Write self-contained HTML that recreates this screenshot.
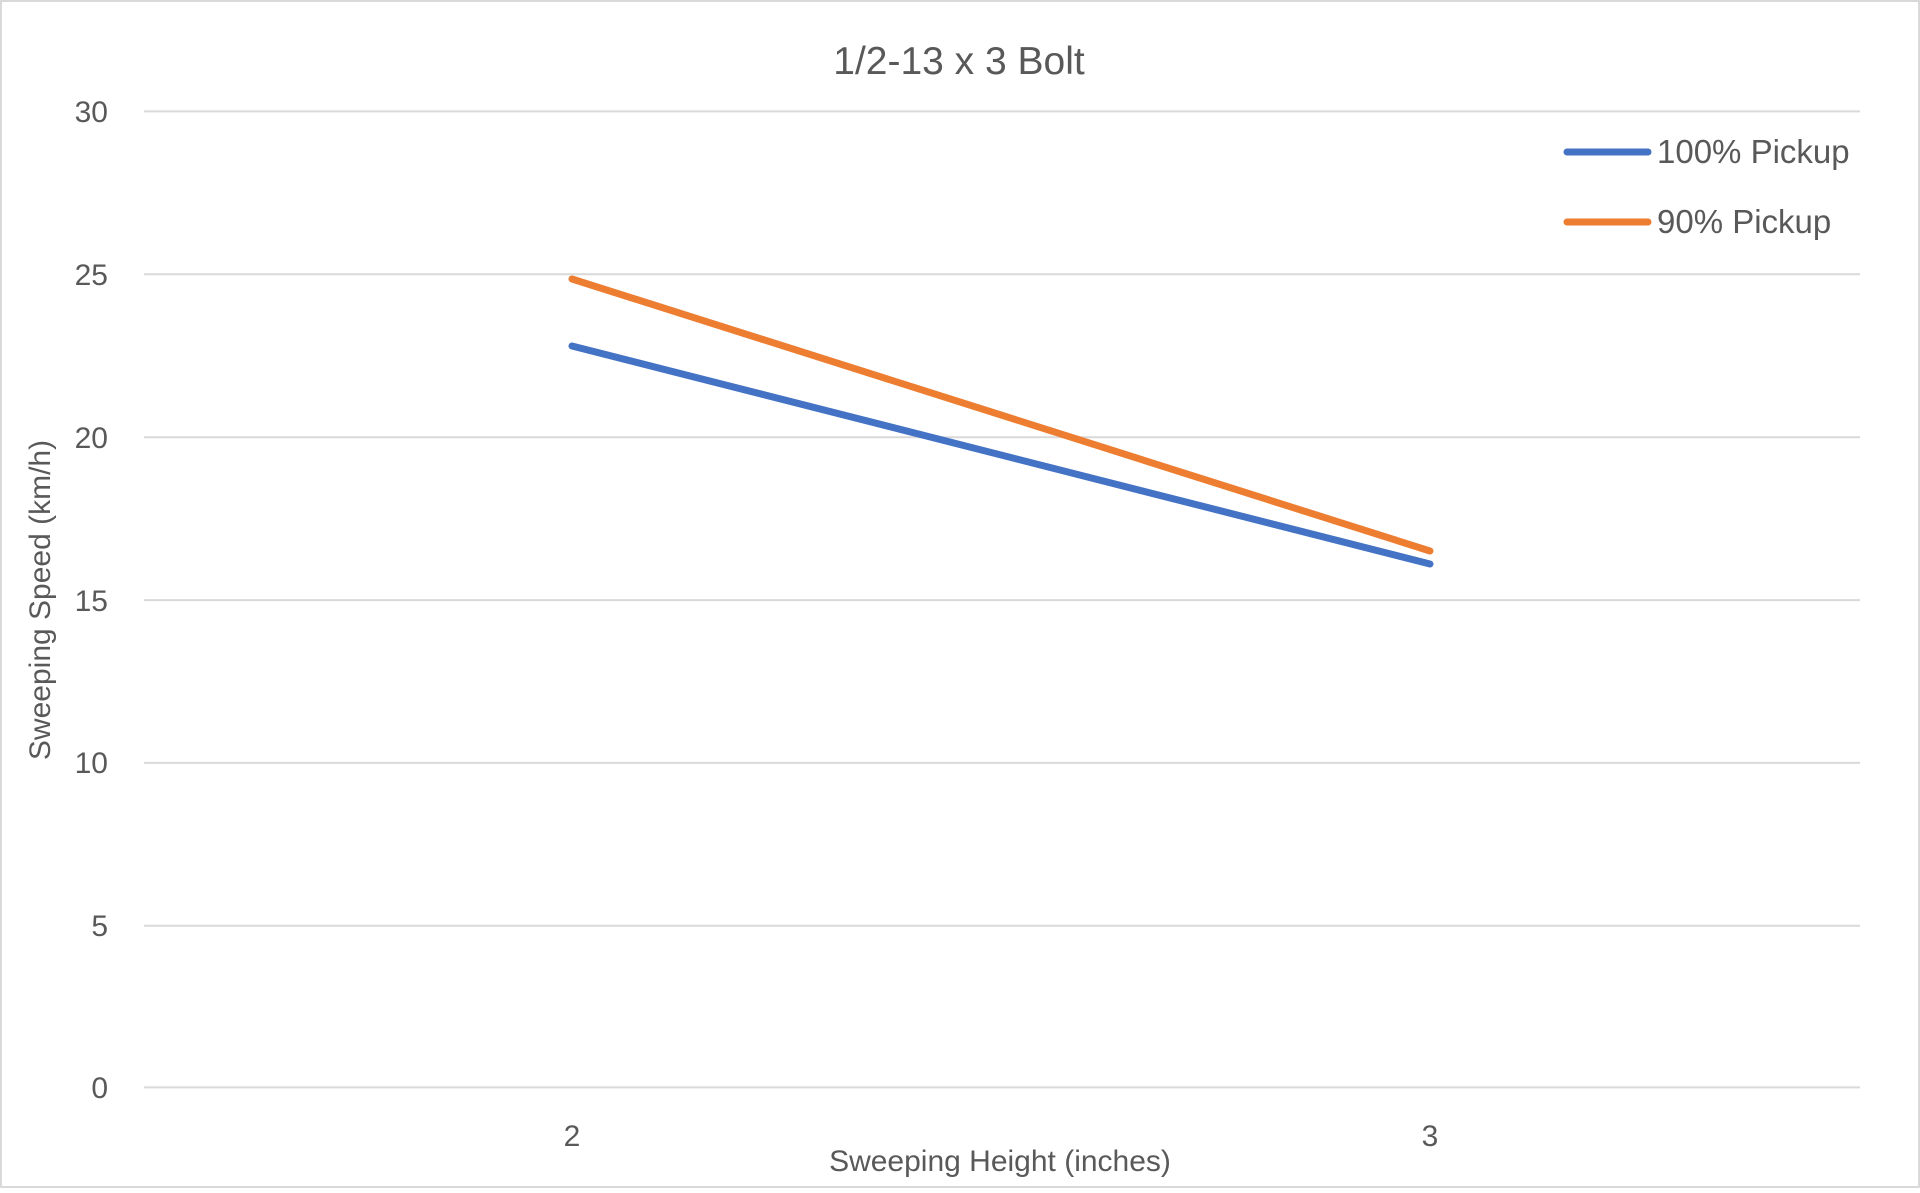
<!DOCTYPE html>
<html><head><meta charset="utf-8"><style>
html,body{margin:0;padding:0;background:#fff;}
svg text{font-family:"Liberation Sans",sans-serif;fill:#595959;}
</style></head><body>
<svg width="1920" height="1188" xmlns="http://www.w3.org/2000/svg">
<rect x="1" y="1" width="1918" height="1186" fill="#fff" stroke="#d9d9d9" stroke-width="2"/>
<g stroke="#d9d9d9" stroke-width="2">
<line x1="144" y1="111.4" x2="1860" y2="111.4"/>
<line x1="144" y1="274.3" x2="1860" y2="274.3"/>
<line x1="144" y1="437.2" x2="1860" y2="437.2"/>
<line x1="144" y1="600.1" x2="1860" y2="600.1"/>
<line x1="144" y1="762.9" x2="1860" y2="762.9"/>
<line x1="144" y1="925.8" x2="1860" y2="925.8"/>
<line x1="144" y1="1087.4" x2="1860" y2="1087.4"/>
</g>
<text x="959" y="74" font-size="39" text-anchor="middle">1/2-13 x 3 Bolt</text>
<g font-size="30" text-anchor="end">
<text x="108" y="122">30</text>
<text x="108" y="285">25</text>
<text x="108" y="448">20</text>
<text x="108" y="611">15</text>
<text x="108" y="773">10</text>
<text x="108" y="936">5</text>
<text x="108" y="1098">0</text>
</g>
<g font-size="30" text-anchor="middle">
<text x="572" y="1146">2</text>
<text x="1430" y="1146">3</text>
</g>
<text x="1000" y="1171" font-size="30" text-anchor="middle">Sweeping Height (inches)</text>
<text transform="translate(50,600) rotate(-90)" font-size="30" text-anchor="middle">Sweeping Speed (km/h)</text>
<line x1="572" y1="346" x2="1430" y2="564" stroke="#4472c4" stroke-width="7" stroke-linecap="round"/>
<line x1="572" y1="279" x2="1430" y2="551" stroke="#ed7d31" stroke-width="7" stroke-linecap="round"/>
<line x1="1567" y1="152" x2="1648" y2="152" stroke="#4472c4" stroke-width="7" stroke-linecap="round"/>
<line x1="1567" y1="222" x2="1648" y2="222" stroke="#ed7d31" stroke-width="7" stroke-linecap="round"/>
<text x="1657" y="163" font-size="33">100% Pickup</text>
<text x="1657" y="233" font-size="33">90% Pickup</text>
</svg>
</body></html>
